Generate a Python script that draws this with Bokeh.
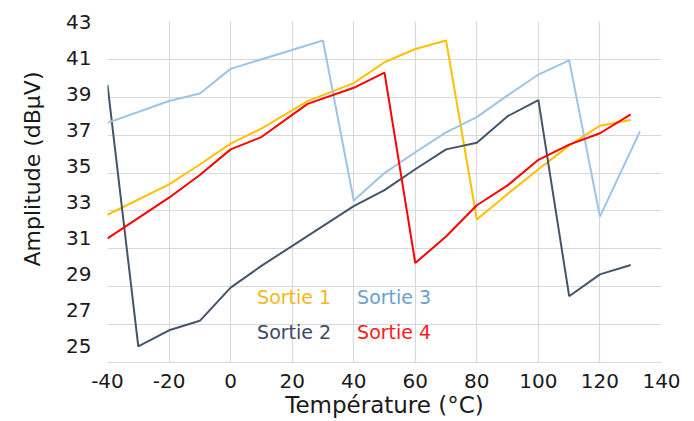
from bokeh.plotting import figure
from bokeh.models import Range1d, LinearAxis, FixedTicker, Label, Title
from bokeh.embed import file_html
from bokeh.resources import INLINE

# ---- data ----
temps_s1 = [-40, -20, -10, 0, 10, 25, 40, 50, 60, 70, 80, 90, 100, 110, 120, 130]
sortie1 = [32.8, 34.4, 35.45, 36.55, 37.35, 38.8, 39.75, 40.85, 41.55, 42.0, 32.55, 33.9, 35.2, 36.45, 37.5, 37.8]

temps_s2 = [-40, -30, -20, -10, 0, 10, 40, 50, 60, 70, 80, 90, 100, 110, 120, 130]
sortie2 = [39.65, 25.85, 26.7, 27.2, 28.95, 30.1, 33.25, 34.1, 35.2, 36.25, 36.6, 38.0, 38.85, 28.5, 29.65, 30.15]

temps_s3 = [-40, -20, -10, 0, 30, 40, 50, 60, 70, 80, 90, 100, 110, 120, 133]
sortie3 = [37.65, 38.8, 39.2, 40.5, 42.0, 33.55, 35.0, 36.1, 37.15, 37.95, 39.1, 40.2, 40.95, 32.7, 37.2]

temps_s4 = [-40, -20, -10, 0, 10, 25, 40, 50, 60, 70, 80, 90, 100, 110, 120, 130]
sortie4 = [31.55, 33.7, 34.9, 36.25, 36.9, 38.65, 39.5, 40.3, 30.25, 31.65, 33.3, 34.35, 35.7, 36.5, 37.1, 38.1]

series_names = ["Sortie 1", "Sortie 2", "Sortie 3", "Sortie 4"]
x_ticks = [-40, -20, 0, 20, 40, 60, 80, 100, 120, 140]
x_tick_labels = ["-40", "-20", "0", "20", "40", "60", "80", "100", "120", "140"]
y_ticks = [25, 27, 29, 31, 33, 35, 37, 39, 41, 43]
x_title = "Température (°C)"
y_title = "Amplitude (dBµV)"

# ---- styles ----
line_colors = ["#FFC000", "#44546A", "#9DC3E6", "#FF0000"]
text_colors = ["#F2B81E", "#3A4A66", "#6A9FD3", "#FF1A1A"]
FONT = "DejaVu Sans"
TXT = "#1a1a1a"
GRID = "#D9D9D9"

p = figure(width=694, height=421, output_backend="svg", toolbar_location=None,
           x_range=Range1d(-40, 140), y_range=Range1d(25, 43),
           y_axis_location=None, min_border_left=107, min_border_right=33,
           min_border_top=21, min_border_bottom=59)
p.outline_line_color = None
p.background_fill_color = "white"
p.border_fill_color = "white"

# grids
p.xgrid.ticker = FixedTicker(ticks=x_ticks)
p.ygrid.ticker = FixedTicker(ticks=y_ticks)
p.xgrid.grid_line_color = GRID
p.ygrid.grid_line_color = GRID
p.xgrid.grid_line_width = 1.2
p.ygrid.grid_line_width = 1.2

# x axis
xa = p.xaxis[0]
xa.ticker = FixedTicker(ticks=x_ticks)
xa.major_label_overrides = dict(zip(x_ticks, x_tick_labels))
xa.axis_line_color = GRID
xa.axis_line_width = 1.2
xa.major_tick_line_color = None
xa.minor_tick_line_color = None
xa.major_label_standoff = 5
xa.major_label_text_font = FONT
xa.major_label_text_font_size = "20px"
xa.major_label_text_color = TXT
xa.axis_label = x_title
xa.axis_label_text_font = FONT
xa.axis_label_text_font_size = "23px"
xa.axis_label_text_font_style = "normal"
xa.axis_label_text_color = TXT
xa.axis_label_standoff = 1

# y axis (labels placed as in the reference)
p.extra_y_ranges = {"lab": Range1d(24.06, 43.055)}
ya = LinearAxis(y_range_name="lab", ticker=FixedTicker(ticks=y_ticks))
ya.axis_line_color = None
ya.major_tick_line_color = None
ya.minor_tick_line_color = None
ya.major_label_standoff = 10
ya.major_label_text_font = FONT
ya.major_label_text_font_size = "20px"
ya.major_label_text_color = TXT
p.add_layout(ya, "left")

# y-axis title as a side title, shifted up like in the reference
p.add_layout(Title(text=y_title, align="left", offset=96, standoff=34,
                   vertical_align="top",
                   text_font=FONT, text_font_size="22px", text_font_style="normal",
                   text_color=TXT), "left")

# lines
all_x = [temps_s1, temps_s2, temps_s3, temps_s4]
all_y = [sortie1, sortie2, sortie3, sortie4]
for xs, ys, c in zip(all_x, all_y, line_colors):
    p.line(xs, ys, line_color=c, line_width=2)

# legend texts (2 x 2 block inside the plot)
legend_pos = [(8.6, 28.45), (8.6, 26.6), (41.1, 28.45), (41.1, 26.6)]
for name, (lx, ly), c in zip(series_names, legend_pos, text_colors):
    p.add_layout(Label(x=lx, y=ly, text=name, text_color=c, text_font=FONT,
                       text_font_size="19px", text_align="left",
                       text_baseline="middle"))

open("out.html", "w").write(file_html(p, INLINE))
